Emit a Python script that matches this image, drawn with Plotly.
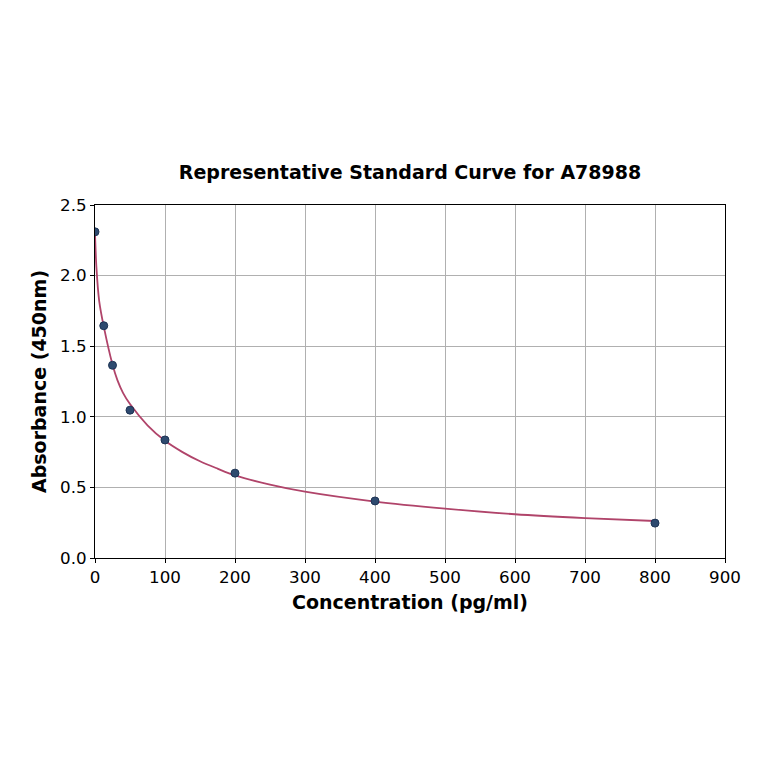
import plotly.graph_objects as go

# Pontos medidos do padrão
conc = [0, 12.5, 25, 50, 100, 200, 400, 800]
absorb = [2.31, 1.645, 1.365, 1.047, 0.836, 0.601, 0.404, 0.247]

# Curva ajustada
curva_x = [0, 2, 6, 12.5, 25, 32, 40, 50, 75, 100, 125, 150, 175, 200, 250, 300, 400, 500, 600, 700, 800]
curva_y = [2.30, 2.06, 1.82, 1.64, 1.37, 1.26, 1.17, 1.09, 0.94, 0.83, 0.75, 0.685, 0.633, 0.585,
           0.52, 0.47, 0.40, 0.35, 0.31, 0.283, 0.262]

fonte = "DejaVu Sans"
desloc = 8  # a página desloca a figura ~8px

fig = go.Figure()
fig.add_trace(go.Scatter(x=curva_x, y=curva_y, mode='lines', line_shape='spline',
                         line=dict(color='#b0446a', width=1.8, smoothing=0.8), showlegend=False))
fig.add_trace(go.Scatter(x=conc, y=absorb, mode='markers', showlegend=False,
                         marker=dict(color='#2e4a6f', size=8, line=dict(color='#1d3354', width=1))))

eixo = dict(showline=True, linecolor='black', linewidth=1, mirror=True,
            ticks='outside', ticklen=4, tickcolor='black',
            showgrid=True, gridcolor='#b0b0b0', gridwidth=1, zeroline=False,
            tickfont=dict(family=fonte, size=16.7, color='black'))

fig.update_layout(
    width=764, height=764,
    template='simple_white',
    margin=dict(l=95 - desloc, r=39 + desloc, t=205 - desloc, b=206 + desloc),
    title=dict(text='<b>Representative Standard Curve for A78988</b>', x=(410 - desloc) / 764,
               xanchor='center', y=1 - (172 - desloc) / 764, yanchor='middle',
               font=dict(family=fonte, size=19, color='black')),
    xaxis=dict(eixo, range=[0, 900], dtick=100,
               title=dict(text='<b>Concentration (pg/ml)</b>', standoff=9,
                          font=dict(family=fonte, size=19, color='black'))),
    yaxis=dict(eixo, range=[0, 2.5], dtick=0.5, tickformat='.1f',
               title=dict(text='<b>Absorbance (450nm)</b>', standoff=8,
                          font=dict(family=fonte, size=19, color='black'))),
    plot_bgcolor='white', paper_bgcolor='white',
)

fig.write_html("out.html")
